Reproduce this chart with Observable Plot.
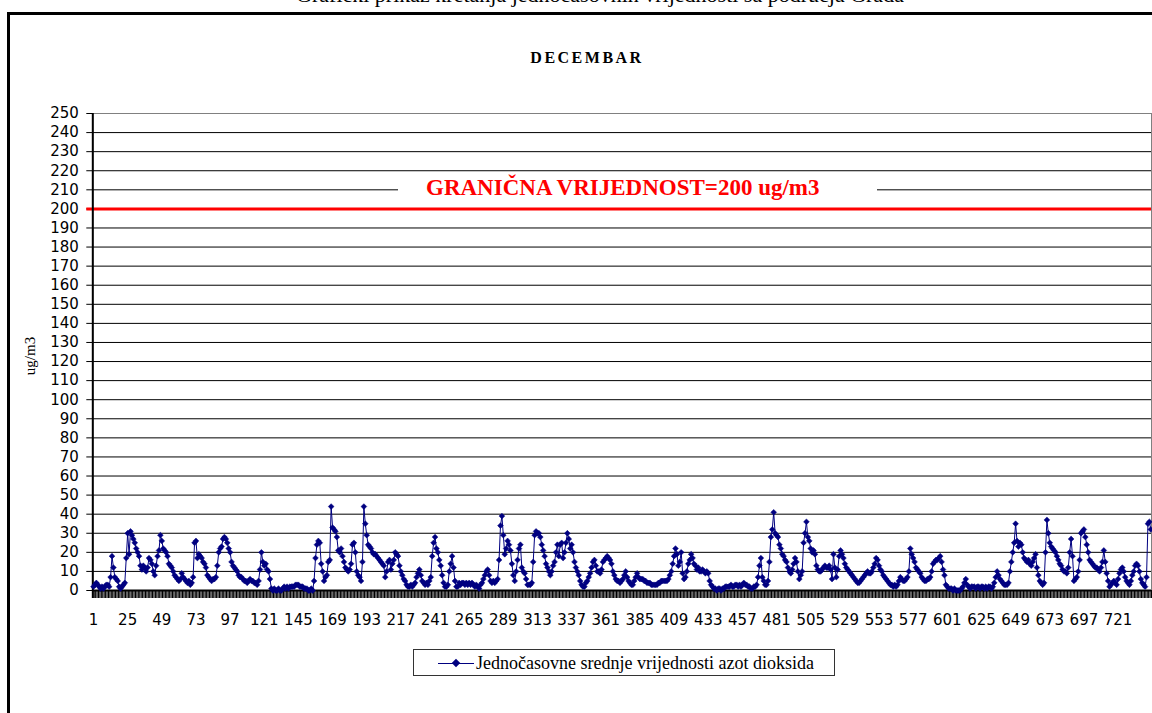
<!DOCTYPE html>
<html>
<head>
<meta charset="utf-8">
<script src="https://cdn.jsdelivr.net/npm/d3@7"></script>
<script src="https://cdn.jsdelivr.net/npm/@observablehq/plot@0.6"></script>
<style>
  html, body { margin: 0; padding: 0; background: #fff; }
  #wrap { position: relative; width: 1152px; height: 713px; overflow: hidden; background: #fff; }
  #frame { position: absolute; left: 7px; top: 12px; width: 1200px; height: 800px; border-left: 3px solid #000; border-top: 3px solid #000; box-sizing: border-box; }
  #title { position: absolute; left: 0; width: 1200px; top: -16px; text-align: center; font-family: "Liberation Serif", serif; font-size: 22px; line-height: 22px; white-space: nowrap; color: #000; }
  #sub { position: absolute; left: 2px; width: 1170px; top: 49px; text-align: center; font-family: "Liberation Serif", serif; font-weight: bold; font-size: 16px; letter-spacing: 2.5px; color: #000; }
  #ylab { position: absolute; left: 30px; top: 356px; transform: translate(-50%, -50%) rotate(-90deg); font-family: "Liberation Serif", serif; font-size: 15px; white-space: nowrap; }
  #limit { position: absolute; left: 398px; top: 175px; width: 479px; height: 26px; background: #fff; padding-left: 28px; box-sizing: border-box; text-align: left; font-family: "Liberation Serif", serif; font-weight: bold; font-size: 23px; line-height: 26px; color: #ff0000; white-space: nowrap; }
  #legend { position: absolute; left: 413px; top: 649px; width: 422px; height: 27px; border: 1px solid #333; box-sizing: border-box; background: #fff; }
  #legend .ln { position: absolute; left: 24px; top: 13px; width: 36px; height: 1px; background: #000080; }
  #legend .mk { position: absolute; left: 39px; top: 10px; width: 6px; height: 6px; background: #000080; transform: rotate(45deg); }
  #legend .tx { position: absolute; left: 62px; top: 3px; white-space: nowrap; font-family: "Liberation Serif", serif; font-size: 18px; line-height: 20px; }
  #chart { position: absolute; left: 0; top: 0; }
</style>
</head>
<body>
<div id="wrap">
  <div id="title">Grafički prikaz kretanja jednočasovnih vrijednosti sa područja Grada</div>
  <div id="frame"></div>
  <div id="chart"></div>
  <div id="sub">DECEMBAR</div>
  <div id="ylab">ug/m3</div>
  <div id="limit">GRANIČNA VRIJEDNOST=200 ug/m3</div>
  <div id="legend"><div class="ln"></div><div class="mk"></div><div class="tx">Jednočasovne srednje vrijednosti azot dioksida</div></div>
</div>
<script>
// Hourly NO2 means, December (hours 1..744)
const no2Week1 = [
  2,3,4,3,2,1,2,1,2,3,3,2,7,18,12,7,6,5,2,1,2,3,4,17,
  30,19,31,29,27,25,22,20,18,13,11,13,12,10,12,17,16,14,10,8,13,18,21,29,
  26,22,21,20,18,14,13,12,10,8,7,6,5,6,9,7,6,5,4,5,3,4,7,25,
  26,17,19,18,17,15,14,12,8,7,6,5,6,6,7,13,20,22,23,27,28,27,25,22,
  20,15,13,12,11,10,8,7,7,6,5,5,4,5,6,5,5,4,4,3,5,11,20,15,13,
  14,11,10,6,1,0,1,0,0,1,0,0,1,2,1,2,1,2,2,2,2,3,3,3,
  2,2,2,1,1,1,0,0,1,0,5,17,24,26,25,14,10,5,7,8,15,16,44,33,
  32,31,28,21,20,22,18,15,12,11,10,11,14,24,25,20,10,8,7,5,15,44,35,29,
  24,23,22,20,19,19,18,17,16,15,14,13,7,10,15,16,11,14,16,20,19,18,13,10
];
const no2Week2 = [
  8,6,5,3,2,2,3,2,3,4,7,9,11,8,5,4,3,4,3,5,7,18,25,28,22,
  20,16,13,8,4,2,2,3,10,14,18,12,5,2,2,4,3,4,4,3,4,3,4,3,
  4,3,2,3,2,1,3,4,6,8,10,11,8,5,4,5,4,5,6,16,34,39,29,19,
  22,26,24,21,14,8,5,10,16,22,24,12,10,
  9,6,3,3,3,4,15,29,31,30,30,28,
  24,21,18,14,12,10,8,10,13,15,20,24,18,24,25,17,20,25,30,27,22,24,20,15,
  12,10,8,5,3,2,2,4,5,7,9,12,15,16,13,10,10,9,11,15,16,17,18,17,
  16,14,10,8,6,5,5,4,5,6,8,10,7,5,4,3,3,5,7,9,7,6,6,6,
  5,5,4,4,4,3,3,3,3,3,4,4,5,5,5,5,5,
  6,8,10,14,18,22,19,13,15,20,9,6,7,10,14,16,19,17,14,13,11,12,10,10,
  11,10,9,10,9,5,3,2,1,1,0,1,1,0,1,1,2,2,2,2,3,2,2,3,
  3,2,3,2,3,4,3,3,2,2,1,1,2,2,3,7,13,17,7,5,3,3,5,15,
  28,32,41,30,29,28,24,22
];
const no2Week3 = [
  19,18,16,15,12,10,9,11,14,17,15,10,6,8,10,25,30,36,28,26,22,20,21,19,
  13,11,10,10,11,12,13,12,12,13,11,6,19,12,7,11,18,21,19,17,14,12,11,10,
  9,8,7,6,5,4,4,5,6,7,8,9,10,9,9,10,12,14,17,16,13,11,10,8,
  7,6,5,4,3,3,2,3,2,3,5,7,6,5,5,6,7,10,22,19,17,15,12,11,
  10,9,7,6,5,5,6,6,7,10,14,15,16,16,17,18,15,11,8,3,2,1,1,1,
  0,1,0,0,0,0,1,2,4,6,3,2,1,2,2,2,1,2,2,1,2,2,1,2,
  1,2,2,1,2,4,7,10,8,6,5,4,3,3,3,4,10,15,20,25,35,26,23,25,
  24,20,17,16,15,16,14,13,15,17,19,12,8,5,4,3,4,20,37,30,25,23,22,21,
  20,18,16,14,13,11,10,10,9,12,20,27,18,5,6,7,10,16,30,31,32,28,24,20,
  16,15,14,13,12,12,11,10,12,15,21,15,9,5,2,3,4,5,4,3,6,9,11,12,
  10,7,5,4,3,5,8,10,13,14,13,10,6,4,3,2,7,35,36,32
];
const no2 = [...no2Week1, ...no2Week2, ...no2Week3];
const hours = no2.map((_, i) => i + 1);
const yTicks = d3.range(0, 251, 10);
const gridValues = d3.range(10, 250, 10);
const xLabelTicks = d3.range(1, 745, 24);
const limitValue = 200;

const data = hours.map((h, i) => ({hour: h, value: no2[i]}));
const boundaries = d3.range(0.5, hours.length + 1, 1);

const chart = Plot.plot({
  width: 1152,
  height: 713,
  marginLeft: 92.3,
  marginRight: 1,
  marginTop: 113,
  marginBottom: 123,
  style: {background: "transparent", fontFamily: "DejaVu Sans", fontSize: "15px", color: "#000", overflow: "visible"},
  x: {domain: [0.5, hours.length + 0.5], ticks: xLabelTicks, tickSize: 0, tickPadding: 24, tickFormat: d => d, label: null},
  y: {domain: [0, 250], ticks: yTicks, tickSize: 6, tickPadding: 8, label: null},
  marks: [
    Plot.frame({stroke: "#808080"}),
    Plot.ruleY(gridValues, {stroke: "#000", strokeWidth: 1}),
    Plot.ruleY([limitValue], {stroke: "#ff0000", strokeWidth: 3, insetLeft: -6}),
    Plot.ruleX(boundaries, {y1: 0, y2: -4.2, stroke: "#000", strokeWidth: 1.1}),
    Plot.ruleX([0.5], {y1: -4.2, y2: 250, stroke: "#000", strokeWidth: 2}),
    Plot.ruleY([0], {stroke: "#000", strokeWidth: 2}),
    Plot.line(data, {x: "hour", y: "value", stroke: "#000080", strokeWidth: 1}),
    Plot.dot(data, {x: "hour", y: "value", symbol: "diamond2", r: 2.6, fill: "#000080", stroke: "#000080", strokeWidth: 0.5})
  ]
});
document.getElementById("chart").appendChild(chart);
</script>
</body>
</html>
